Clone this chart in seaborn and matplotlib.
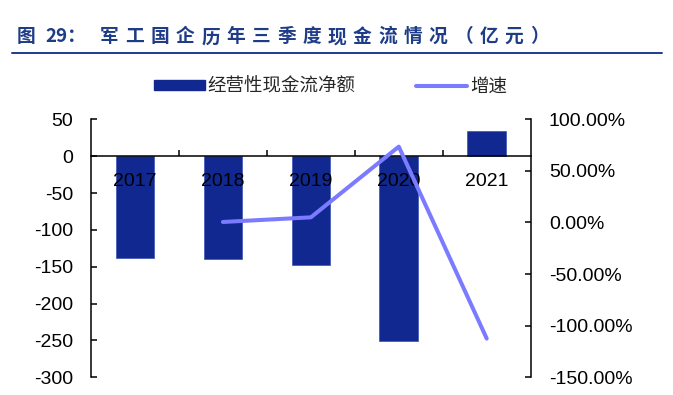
import matplotlib
matplotlib.use("Agg")
import matplotlib.pyplot as plt
import seaborn as sns
import pandas as pd
import numpy as np
from matplotlib.patches import Patch
from matplotlib.lines import Line2D
from matplotlib.ticker import FixedLocator, FuncFormatter

years = ["2017", "2018", "2019", "2020", "2021"]
cash_flow = [-137.5, -139.5, -147.5, -251.0, 34.0]
growth = [np.nan, 0.5, 5.0, 73.5, -112.5]

title_head = ["图", "29：", ]
title_chars = ["军", "工", "国", "企", "历", "年", "三", "季", "度",
               "现", "金", "流", "情", "况", "（", "亿", "元", "）"]
bar_label = "经营性现金流净额"
line_label = "增速"

left_ticks = [50, 0, -50, -100, -150, -200, -250, -300]
right_ticks = [100, 50, 0, -50, -100, -150]

BAR_COLOR = "#10288F"
LINE_COLOR = "#7B7BFF"
TITLE_COLOR = "#1F3C88"
CJK = ["Noto Sans CJK SC", "DejaVu Sans"]

sns.set_theme(style="ticks")
plt.rcParams["font.family"] = ["Liberation Sans", "Noto Sans CJK SC", "DejaVu Sans"]
plt.rcParams["axes.unicode_minus"] = False

df = pd.DataFrame({"year": years, "cash": cash_flow, "growth": growth})
df["pos"] = np.arange(len(df))

fig = plt.figure(figsize=(6.73, 3.95), dpi=100)
ax = fig.add_axes([91 / 673, 0.0448, (530.7 - 91) / 673, 0.698 - 0.0448])

sns.barplot(data=df, x="year", y="cash", color=BAR_COLOR, width=0.44,
            saturation=1, edgecolor="#3A52B5", linewidth=0.5, ax=ax)
ax.set_axisbelow(False)
ax.set_xlim(-0.5, len(years) - 0.5)
ax.set_ylim(-300, 50)
ax.set_yticks(left_ticks)
ax.set_yticklabels([str(v) for v in left_ticks])
ax.set_xlabel("")
ax.set_ylabel("")

ax.spines["top"].set_visible(False)
ax.spines["right"].set_visible(False)
ax.spines["bottom"].set_position(("data", 0))
for s in ["left", "bottom"]:
    ax.spines[s].set_linewidth(1.1)
    ax.spines[s].set_color("black")

ax.tick_params(axis="y", direction="in", length=4, width=1.1, pad=13,
               labelsize=14, colors="black")
ax.tick_params(axis="x", which="major", length=0, pad=12, labelsize=14,
               labelcolor="black")
ax.xaxis.set_minor_locator(FixedLocator(np.arange(0.5, len(years) - 1, 1)))
ax.tick_params(axis="x", which="minor", direction="in", length=4, width=1.1,
               color="black")

ax2 = ax.twinx()
line_df = df.dropna(subset=["growth"])
sns.lineplot(data=line_df, x="pos", y="growth", color=LINE_COLOR, linewidth=2.9,
             solid_capstyle="round", ax=ax2)
ax2.set_ylim(-150, 100)
ax2.set_yticks(right_ticks)
ax2.yaxis.set_major_formatter(FuncFormatter(lambda v, p: f"{v:.2f}%"))
ax2.set_ylabel("")
ax2.set_xlabel("")
for s in ["top", "bottom", "left"]:
    ax2.spines[s].set_visible(False)
ax2.spines["right"].set_linewidth(1.1)
ax2.spines["right"].set_color("black")
ax2.tick_params(axis="y", direction="in", length=4, width=1.1, pad=13,
                labelsize=14, colors="black")
ax.set_xlim(-0.5, len(years) - 0.5)

handles = [
    Patch(facecolor=BAR_COLOR, edgecolor=BAR_COLOR, label=bar_label),
    Line2D([], [], color=LINE_COLOR, linewidth=2.9, solid_capstyle="round",
           label=line_label),
]
fig.legend(handles=handles, loc="center", bbox_to_anchor=(0.491, 0.7805),
           ncol=2, frameon=False, handlelength=2.76,
           handleheight=0.5, handletextpad=0.16, columnspacing=3.3,
           prop={"family": CJK, "size": 13.3})

# title, spaced out like the original
title_y = 1 - 36.7 / 395
fig.text(16.7 / 673, title_y, title_head[0], color=TITLE_COLOR, fontsize=13.5,
         fontweight="bold", va="center", ha="left", family=CJK)
fig.text(45 / 673, title_y, title_head[1], color=TITLE_COLOR, fontsize=13.5,
         fontweight="bold", va="center", ha="left", family=CJK)
for i, ch in enumerate(title_chars):
    fig.text((100 + i * 25.3) / 673, title_y, ch, color=TITLE_COLOR,
             fontsize=13.5, fontweight="bold", va="center", ha="left",
             family=CJK)
fig.add_artist(Line2D([12 / 673, 662 / 673], [1 - 52.5 / 395] * 2,
                      transform=fig.transFigure, color=TITLE_COLOR, linewidth=1.4))

fig.savefig("out.png", dpi=100)
